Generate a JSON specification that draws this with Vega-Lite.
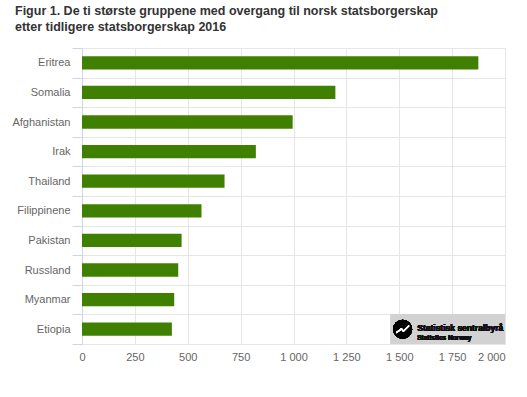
{
  "$schema": "https://vega.github.io/schema/vega-lite/v6.json",
  "width": 423,
  "height": 296,
  "autosize": {"type": "none"},
  "padding": {"left": 82, "top": 48, "right": 22, "bottom": 53},
  "background": "#ffffff",
  "title": {
    "text": ["Figur 1. De ti største gruppene med overgang til norsk statsborgerskap", "etter tidligere statsborgerskap 2016"],
    "anchor": "start",
    "frame": "group",
    "dx": -67,
    "offset": 9,
    "font": "Liberation Sans",
    "fontSize": 12.5,
    "fontWeight": "bold",
    "color": "#333333",
    "lineHeight": 16
  },
  "config": {
    "view": {"stroke": null},
    "axis": {"labelFont": "Liberation Sans", "labelFontSize": 11, "labelColor": "#666666"}
  },
  "data": {
    "values": [
      {"land": "Eritrea", "antall": 1874},
      {"land": "Somalia", "antall": 1198},
      {"land": "Afghanistan", "antall": 996},
      {"land": "Irak", "antall": 822},
      {"land": "Thailand", "antall": 674},
      {"land": "Filippinene", "antall": 565},
      {"land": "Pakistan", "antall": 471},
      {"land": "Russland", "antall": 455},
      {"land": "Myanmar", "antall": 436},
      {"land": "Etiopia", "antall": 425}
    ]
  },
  "encoding": {
    "y": {
      "field": "land",
      "type": "nominal",
      "sort": null,
      "title": null,
      "scale": {"padding": 0},
      "axis": {
        "domainColor": "#ccd6eb",
        "tickColor": "#ccd6eb",
        "tickSize": 10,
        "tickBand": "extent",
        "grid": true,
        "gridColor": "#e6e6e6",
        "labelPadding": 2
      }
    }
  },
  "layer": [
    {
      "mark": {"type": "bar", "height": {"band": 0.45}, "color": "#408000"},
      "encoding": {
        "x": {
          "field": "antall",
          "type": "quantitative",
          "title": null,
          "scale": {"domain": [0, 2000], "nice": false},
          "axis": {
            "values": [0, 250, 500, 750, 1000, 1250, 1500, 1750, 2000],
            "grid": true,
            "gridColor": "#e6e6e6",
            "domain": false,
            "ticks": false,
            "labelPadding": 7,
            "labelExpr": "replace(format(datum.value, ','), ',', ' ')",
            "labelAlign": {"expr": "datum.value == 2000 ? 'right' : 'center'"}
          }
        }
      }
    },
    {
      "mark": {"type": "rect", "color": "#d2d2d2"},
      "encoding": {
        "x": {"datum": 1460, "type": "quantitative"},
        "x2": {"datum": 2000},
        "y": {"datum": "Etiopia", "type": "nominal"}
      }
    },
    {
      "mark": {"type": "point", "filled": true, "color": "#000000", "size": 360, "opacity": 1},
      "encoding": {
        "x": {"datum": 1516, "type": "quantitative"},
        "y": {"datum": "Etiopia", "type": "nominal"}
      }
    },
    {
      "mark": {"type": "point", "filled": false, "stroke": "#ffffff", "strokeWidth": 1.2, "opacity": 1, "size": 250, "shape": "M-0.8,0.45 L-0.15,-0.05 L0.1,0.25 L0.8,-0.45"},
      "encoding": {
        "x": {"datum": 1516, "type": "quantitative"},
        "y": {"datum": "Etiopia", "type": "nominal"}
      }
    },
    {
      "mark": {"type": "text", "align": "left", "baseline": "alphabetic", "dy": 2, "font": "Liberation Sans", "fontWeight": "bold", "fontSize": 8.5, "color": "#111111"},
      "encoding": {
        "x": {"datum": 1585, "type": "quantitative"},
        "y": {"datum": "Etiopia", "type": "nominal"},
        "text": {"value": "Statistisk sentralbyrå"}
      }
    },
    {
      "mark": {"type": "text", "align": "left", "baseline": "alphabetic", "dy": 11, "font": "Liberation Sans", "fontWeight": "bold", "fontSize": 6.5, "color": "#111111"},
      "encoding": {
        "x": {"datum": 1585, "type": "quantitative"},
        "y": {"datum": "Etiopia", "type": "nominal"},
        "text": {"value": "Statistics Norway"}
      }
    }
  ]
}
